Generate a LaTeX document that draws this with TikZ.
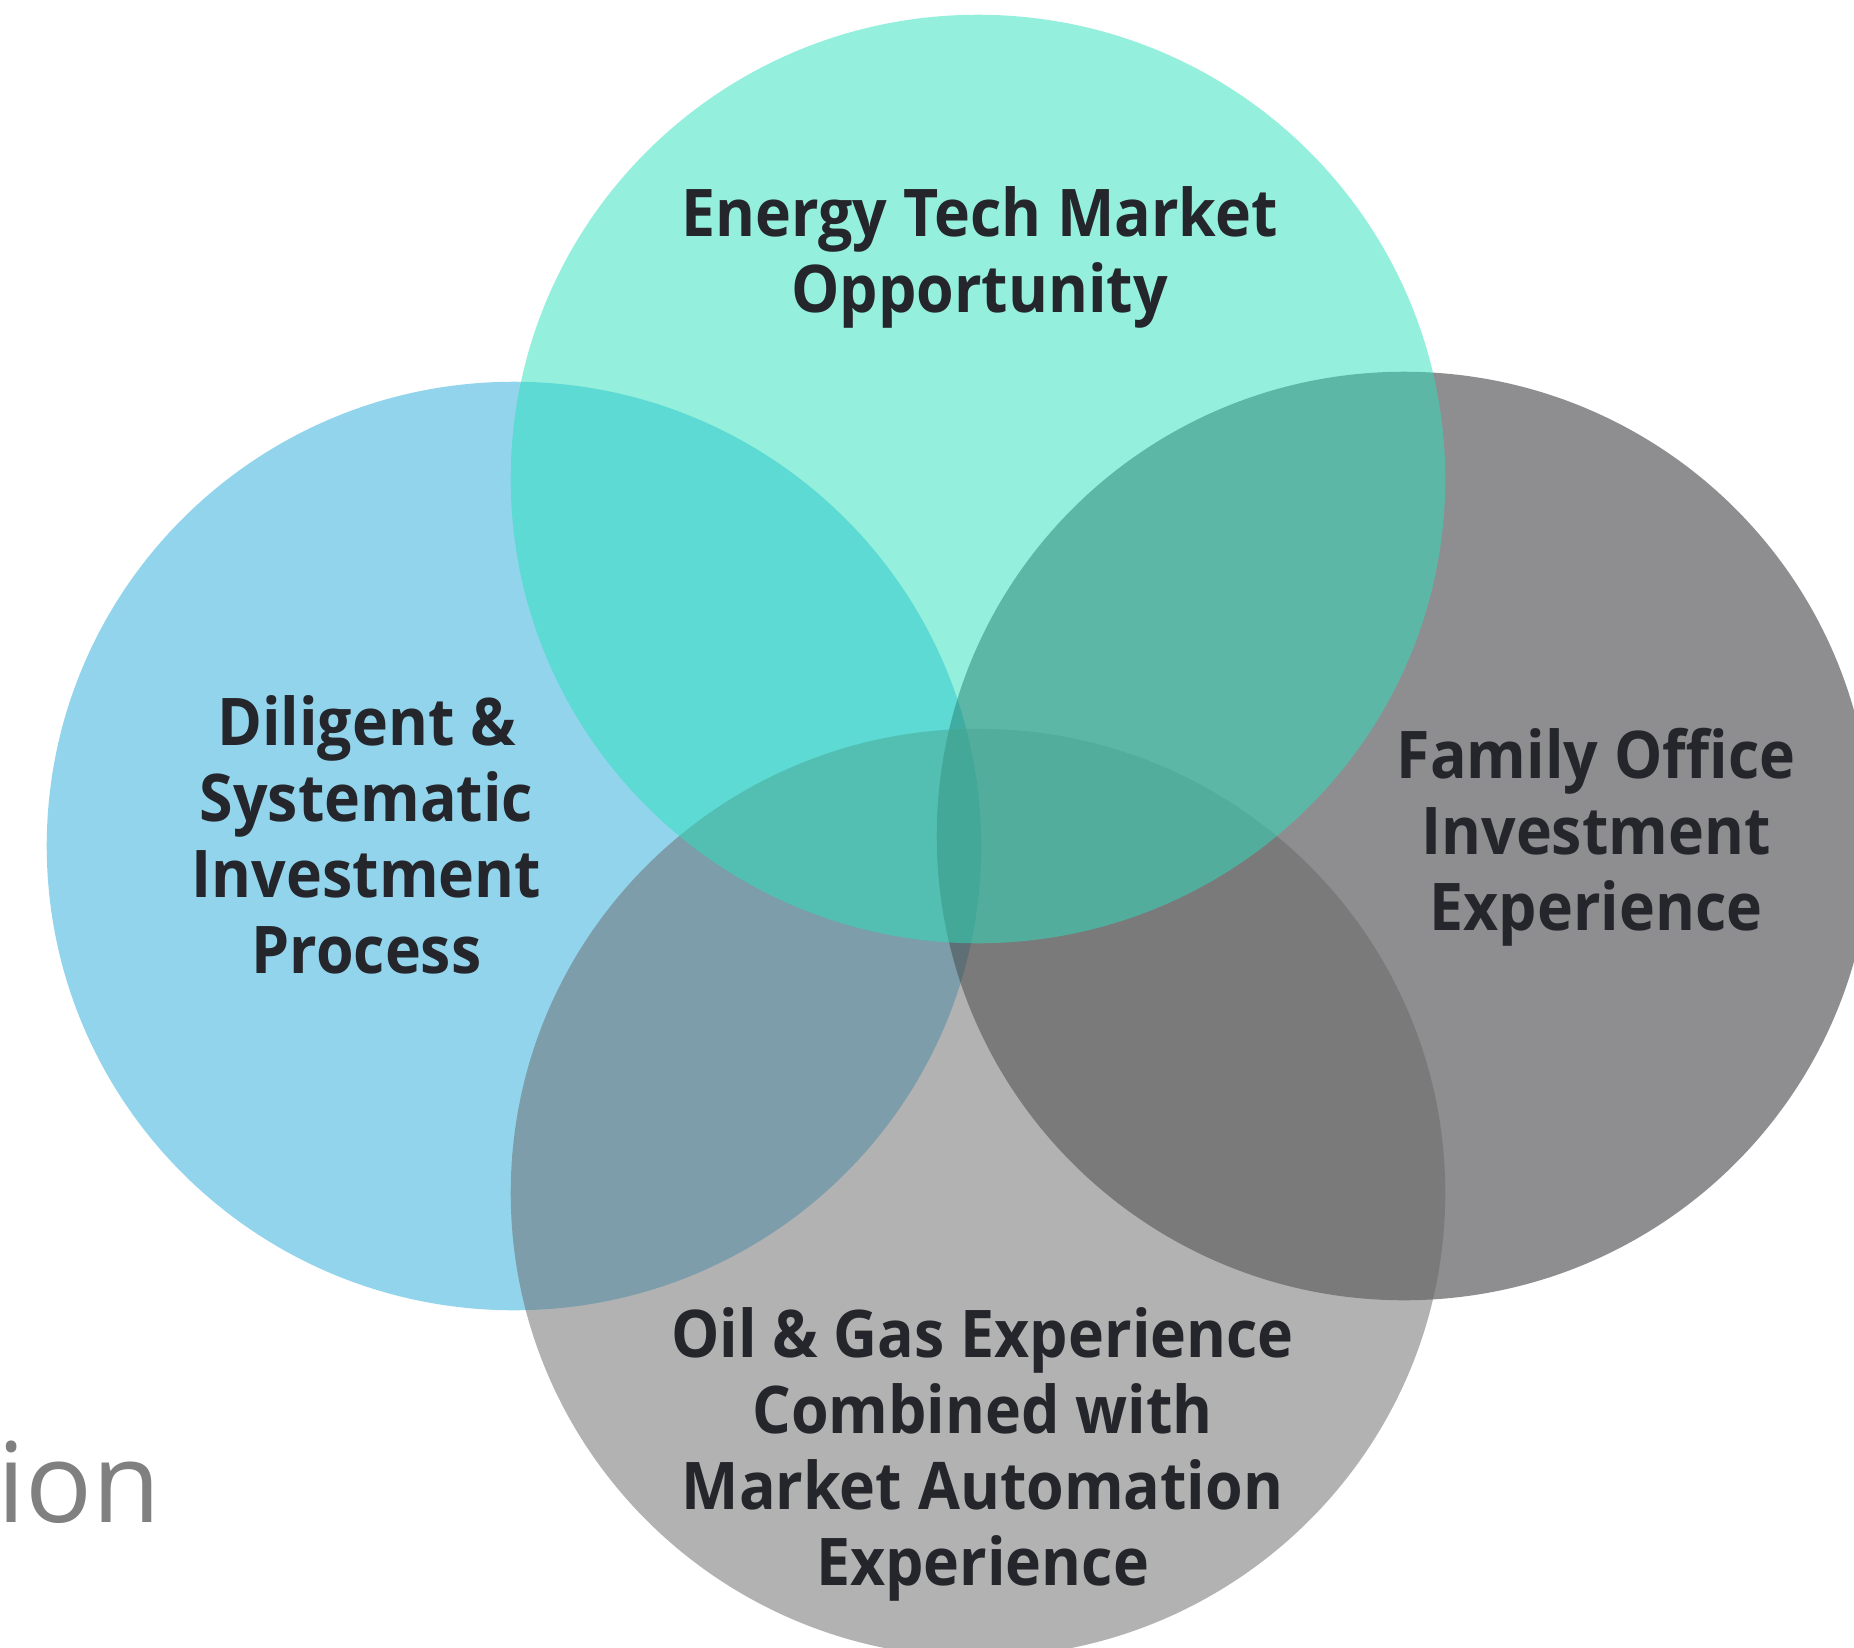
\documentclass[tikz,border=0pt]{standalone}
\usepackage{fontspec}
\setmainfont{Open Sans}
\newfontfamily\labelfont[FakeStretch=0.925]{Open Sans}
\definecolor{cL}{RGB}{39,171,219}
\definecolor{cR}{RGB}{31,31,35}
\definecolor{cB}{RGB}{103,103,103}
\definecolor{cT}{RGB}{43,225,189}
\definecolor{txt}{RGB}{37,38,43}
\definecolor{ghost}{RGB}{128,128,128}
\tikzset{
  venn/.style={fill opacity=0.5},
  lbl/.style={font=\labelfont\bfseries\fontsize{18.7}{21.6}\selectfont, align=center, text=txt, inner sep=0pt},
}
\begin{document}
\begin{tikzpicture}[x=0.01cm,y=-0.01cm]
\useasboundingbox (0,0) rectangle (1854,1648);
\fill[white] (0,0) rectangle (1854,1648);
\clip (0,0) rectangle (1854,1648);
\node[anchor=base west, inner sep=0pt, text=ghost, font=\fontsize{31.6}{36}\selectfont] (ion) at (-3,1522) {ion};
\fill[venn, cL] (514,846) ellipse [x radius=4.67cm, y radius=4.64cm];
\fill[venn, cR] (1404,836) ellipse [x radius=4.67cm, y radius=4.64cm];
\fill[venn, cB] (978,1193) ellipse [x radius=4.67cm, y radius=4.64cm];
\fill[venn, cT] (978,479) ellipse [x radius=4.67cm, y radius=4.64cm];
\node[lbl] (energy) at (979.5,257) {Energy Tech Market\\Opportunity};
\node[lbl] (diligent) at (366.5,835) {Diligent \&\\Systematic\\Investment\\Process};
\node[lbl] (family) at (1596,837) {Family Office\\Investment\\Experience};
\node[lbl] (oil) at (982.5,1454) {Oil \& Gas Experience\\Combined with\\Market Automation\\Experience};
\end{tikzpicture}
\end{document}
